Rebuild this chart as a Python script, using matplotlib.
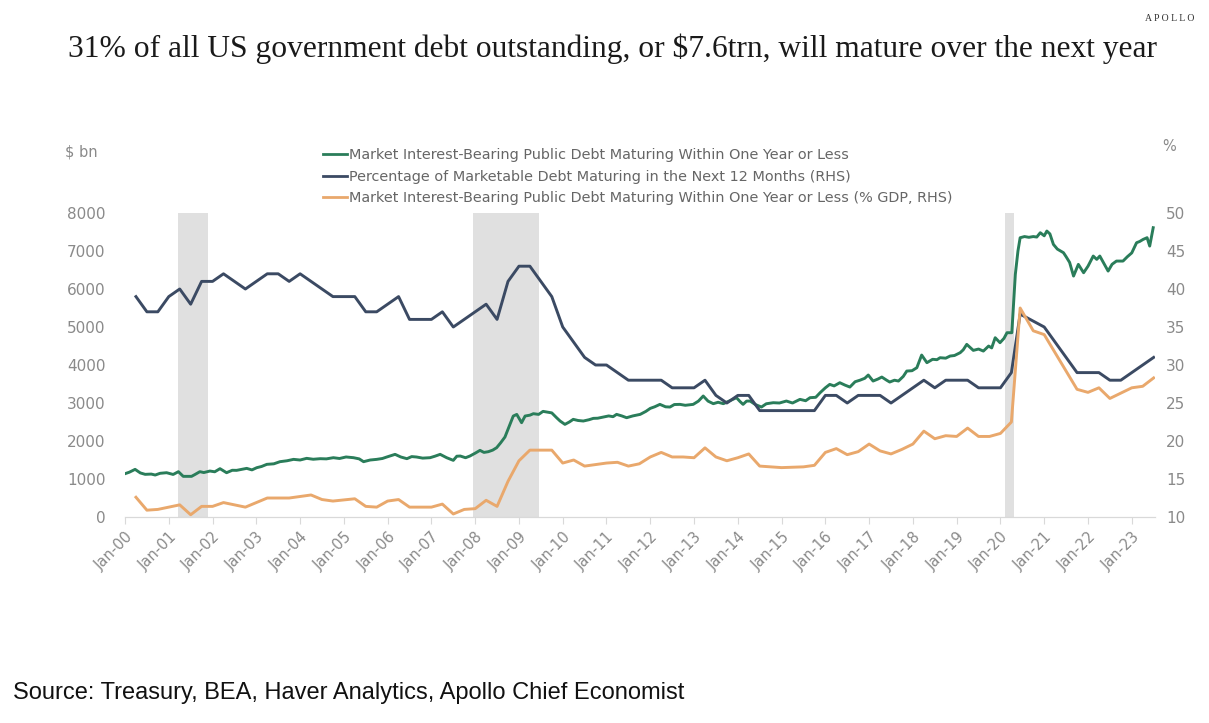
import matplotlib
matplotlib.use('Agg')
import matplotlib.pyplot as plt
from matplotlib.lines import Line2D

# Market interest-bearing public debt maturing within 1y ($bn), years since Jan-2000
green_t = [0.0, 0.1, 0.23, 0.35, 0.46, 0.6, 0.69, 0.8, 0.95, 1.1,
           1.22, 1.33, 1.52, 1.6, 1.71, 1.8, 1.94, 2.05, 2.17, 2.32,
           2.45, 2.55, 2.65, 2.78, 2.9, 3.01, 3.12, 3.24, 3.4, 3.54,
           3.7, 3.85, 4.0, 4.15, 4.3, 4.46, 4.6, 4.76, 4.9, 5.05,
           5.22, 5.35, 5.45, 5.6, 5.75, 5.88, 5.98, 6.17, 6.3, 6.44,
           6.55, 6.66, 6.8, 6.97, 7.08, 7.2, 7.35, 7.5, 7.58, 7.66,
           7.78, 7.88, 8.0, 8.11, 8.2, 8.3, 8.4, 8.49, 8.58, 8.68,
           8.8, 8.87, 8.95, 9.06, 9.14, 9.25, 9.33, 9.45, 9.55, 9.64,
           9.75, 9.86, 9.94, 10.05, 10.15, 10.24, 10.35, 10.47, 10.6, 10.7,
           10.8, 10.93, 11.05, 11.15, 11.23, 11.35, 11.46, 11.6, 11.77, 11.9,
           12.0, 12.1, 12.22, 12.35, 12.45, 12.55, 12.68, 12.8, 12.98, 13.1,
           13.21, 13.32, 13.44, 13.55, 13.67, 13.8, 13.97, 14.05, 14.12, 14.2,
           14.28, 14.4, 14.54, 14.65, 14.81, 14.95, 15.11, 15.25, 15.42, 15.55,
           15.65, 15.78, 15.88, 16.0, 16.1, 16.2, 16.33, 16.45, 16.56, 16.68,
           16.79, 16.9, 16.98, 17.09, 17.2, 17.29, 17.4, 17.47, 17.58, 17.67,
           17.78, 17.86, 17.98, 18.09, 18.2, 18.32, 18.45, 18.55, 18.62, 18.75,
           18.85, 18.95, 19.08, 19.15, 19.23, 19.38, 19.5, 19.61, 19.73, 19.8,
           19.88, 19.99, 20.08, 20.15, 20.26, 20.3, 20.34, 20.4, 20.45, 20.55,
           20.65, 20.75, 20.83, 20.91, 21.0, 21.06, 21.13, 21.21, 21.3, 21.44,
           21.5, 21.58, 21.67, 21.78, 21.9, 22.0, 22.12, 22.2, 22.27, 22.35,
           22.46, 22.55, 22.65, 22.8, 22.9, 23.0, 23.11, 23.18, 23.26, 23.35,
           23.41, 23.49]
green_v = [1140, 1180, 1254, 1160, 1123, 1130, 1105, 1150, 1166, 1120,
           1193, 1070, 1070, 1120, 1193, 1170, 1210, 1190, 1272, 1166,
           1230, 1228, 1250, 1280, 1240, 1298, 1330, 1386, 1400, 1456,
           1480, 1517, 1500, 1544, 1520, 1535, 1530, 1561, 1540, 1580,
           1561, 1530, 1456, 1500, 1517, 1540, 1579, 1649, 1580, 1535,
           1590, 1579, 1550, 1561, 1600, 1649, 1560, 1491, 1600, 1605,
           1560, 1605, 1680, 1754, 1700, 1719, 1760, 1824, 1950, 2105,
           2450, 2657, 2700, 2482, 2657, 2680, 2719, 2700, 2780, 2763,
           2740, 2613, 2526, 2438, 2500, 2570, 2540, 2526, 2560, 2596,
           2600, 2631, 2660, 2640, 2701, 2660, 2613, 2660, 2701, 2780,
           2859, 2900, 2964, 2900, 2894, 2960, 2964, 2940, 2964, 3050,
           3184, 3050, 2982, 3020, 2982, 3050, 3140, 3040, 2964, 3050,
           3052, 2960, 2894, 2980, 3008, 3000, 3052, 3000, 3096, 3060,
           3140, 3150, 3271, 3400, 3490, 3450, 3534, 3470, 3420, 3560,
           3600, 3650, 3736, 3578, 3630, 3683, 3600, 3552, 3600, 3578,
           3700, 3841, 3850, 3929, 4262, 4061, 4150, 4140, 4192, 4180,
           4236, 4250, 4324, 4400, 4543, 4385, 4420, 4367, 4499, 4450,
           4718, 4587, 4700, 4850, 4850, 5600, 6385, 7000, 7349, 7380,
           7360, 7380, 7367, 7481, 7400, 7525, 7450, 7174, 7050, 6955,
           6850, 6700, 6341, 6648, 6428, 6600, 6867, 6779, 6867, 6700,
           6472, 6650, 6735, 6735, 6850, 6950, 7218, 7250, 7305, 7350,
           7130, 7613]

# Percentage of marketable debt maturing in next 12 months (RHS)
navy_t = [0.25, 0.5, 0.75, 1.0, 1.25, 1.5, 1.75, 2.0,
          2.25, 2.75, 3.25, 3.5, 3.75, 4.0, 4.5, 4.75,
          5.25, 5.5, 5.75, 6.25, 6.5, 7.0, 7.25, 7.5,
          8.25, 8.5, 8.75, 9.0, 9.25, 9.5, 9.75, 10.0,
          10.25, 10.5, 10.75, 11.0, 11.5, 12.25, 12.5, 13.0,
          13.25, 13.5, 13.75, 14.0, 14.25, 14.5, 15.75, 16.0,
          16.25, 16.5, 16.75, 17.25, 17.5, 18.25, 18.5, 18.75,
          19.25, 19.5, 20.0, 20.25, 20.45, 21.0, 21.75, 22.25,
          22.5, 22.75, 23.5]
navy_v = [39, 37, 37, 39, 40, 38, 41, 41,
          42, 40, 42, 42, 41, 42, 40, 39,
          39, 37, 37, 39, 36, 36, 37, 35,
          38, 36, 41, 43, 43, 41, 39, 35,
          33, 31, 30, 30, 28, 28, 27, 27,
          28, 26, 25, 26, 26, 24, 24, 26,
          26, 25, 26, 26, 25, 28, 27, 28,
          28, 27, 27, 29, 36.7, 35, 29, 29,
          28, 28, 31]

# Debt maturing within 1y as % of GDP (RHS)
orange_t = [0.25, 0.5, 0.75, 1.0, 1.25, 1.5, 1.75, 2.0,
            2.25, 2.75, 3.0, 3.25, 3.5, 3.75, 4.25, 4.5,
            4.75, 5.25, 5.5, 5.75, 6.0, 6.25, 6.5, 7.0,
            7.25, 7.5, 7.75, 8.0, 8.25, 8.5, 8.75, 9.0,
            9.25, 9.75, 10.0, 10.25, 10.5, 11.0, 11.25, 11.5,
            11.75, 12.0, 12.25, 12.5, 12.75, 13.0, 13.25, 13.5,
            13.75, 14.0, 14.25, 14.5, 15.0, 15.5, 15.75, 16.0,
            16.25, 16.5, 16.75, 17.0, 17.25, 17.5, 17.75, 18.0,
            18.25, 18.5, 18.75, 19.0, 19.25, 19.5, 19.75, 20.0,
            20.25, 20.45, 20.75, 21.0, 21.75, 22.0, 22.25, 22.5,
            23.0, 23.25, 23.5]
orange_v = [12.6, 10.9, 11.0, 11.3, 11.6, 10.3, 11.4, 11.4,
            11.9, 11.3, 11.9, 12.5, 12.5, 12.5, 12.9, 12.3,
            12.1, 12.4, 11.4, 11.3, 12.1, 12.3, 11.3, 11.3,
            11.7, 10.4, 11.0, 11.1, 12.2, 11.4, 14.7, 17.4,
            18.8, 18.8, 17.1, 17.5, 16.7, 17.1, 17.2, 16.7,
            17.0, 17.9, 18.5, 17.9, 17.9, 17.8, 19.1, 17.9,
            17.4, 17.8, 18.3, 16.7, 16.5, 16.6, 16.8, 18.5,
            19.0, 18.2, 18.6, 19.6, 18.7, 18.3, 18.9, 19.6,
            21.3, 20.3, 20.7, 20.6, 21.7, 20.6, 20.6, 21.0,
            22.5, 37.5, 34.5, 34.0, 26.8, 26.4, 27.0, 25.6,
            27.0, 27.2, 28.3]

# NBER recessions (years since Jan-2000)
rec_start = [1.2, 7.95, 20.1]
rec_end = [1.9, 9.45, 20.3]

years = list(range(0, 24))
year_labels = ['Jan-%02d' % y for y in years]

green = '#2a7d5a'
navy = '#3b4a63'
orange = '#e9a86c'
grey = '#8a8a8a'

fig = plt.figure(figsize=(12.09, 7.23), dpi=100)
ax = fig.add_axes([0.1034, 0.2849, 0.8519, 0.4205])
ax2 = ax.twinx()

for s, e in zip(rec_start, rec_end):
    ax.axvspan(s, e, color='#e0e0e0', lw=0, zorder=0)

ax.plot(green_t, green_v, color=green, lw=2.1, zorder=3)
ax2.plot(navy_t, navy_v, color=navy, lw=2.1)
ax2.plot(orange_t, orange_v, color=orange, lw=2.1)

ax.set_xlim(0, 23.53)
ax.set_ylim(0, 8000)
ax2.set_ylim(10, 50)
ax.set_yticks(range(0, 8001, 1000))
ax2.set_yticks(range(10, 51, 5))
ax.set_xticks(years)
ax.set_xticklabels(year_labels, rotation=45, ha='right', rotation_mode='anchor')

for a in (ax, ax2):
    for side in ('top', 'left', 'right'):
        a.spines[side].set_visible(False)
    a.spines['bottom'].set_color('#d9d9d9')
ax.tick_params(axis='x', colors='#d9d9d9', labelcolor=grey, length=5, labelsize=10.5, pad=4)
ax.tick_params(axis='y', length=0, labelcolor=grey, labelsize=11, pad=14)
ax2.tick_params(axis='y', length=0, labelcolor=grey, labelsize=11, pad=8)

fig.text(0.0537, 0.790, '$ bn', color=grey, fontsize=10.5, va='center')
fig.text(0.961, 0.797, '%', color=grey, fontsize=10.5, va='center')

handles = [Line2D([], [], color=green, lw=2),
           Line2D([], [], color=navy, lw=2),
           Line2D([], [], color=orange, lw=2)]
labels = ['Market Interest-Bearing Public Debt Maturing Within One Year or Less',
          'Percentage of Marketable Debt Maturing in the Next 12 Months (RHS)',
          'Market Interest-Bearing Public Debt Maturing Within One Year or Less (% GDP, RHS)']
leg = fig.legend(handles, labels, loc='upper left', bbox_to_anchor=(0.262, 0.803),
                 frameon=False, fontsize=10.4, handlelength=1.7, handletextpad=0.1,
                 labelspacing=0.52, borderaxespad=0)
for t in leg.get_texts():
    t.set_color('#666666')

fig.text(0.5063, 0.933, '31% of all US government debt outstanding, or $7.6trn, will mature over the next year',
         family='Liberation Serif', fontsize=22.7, ha='center', va='center', color='#1a1a1a')
fig.text(0.988, 0.975, 'A P O L L O', family='Liberation Serif', fontsize=7, ha='right',
         va='center', color='#333333')
fig.text(0.011, 0.042, 'Source: Treasury, BEA, Haver Analytics, Apollo Chief Economist',
         family='Liberation Sans', fontsize=17, ha='left', va='center', color='#111111')

fig.savefig('out.png', dpi=100)
